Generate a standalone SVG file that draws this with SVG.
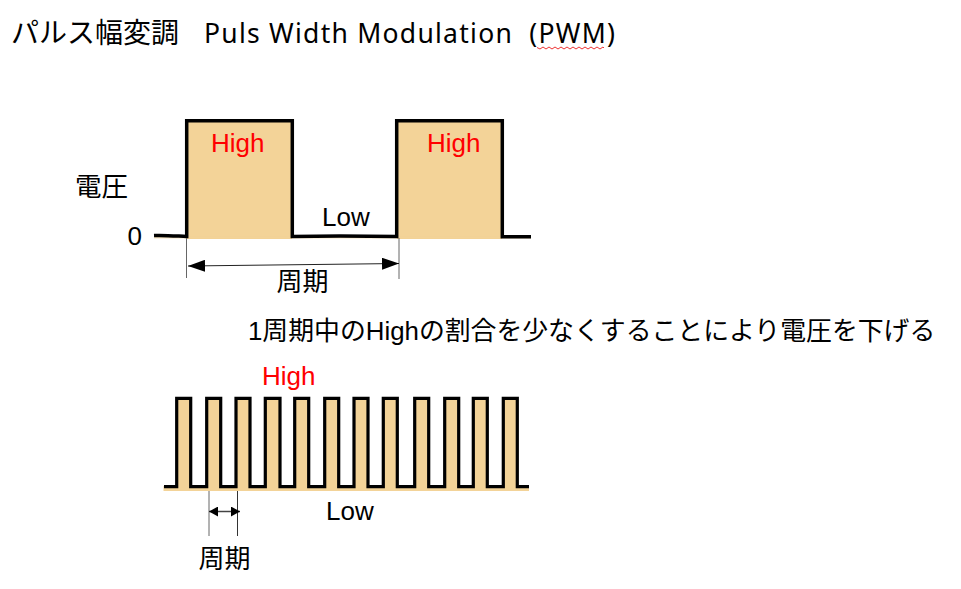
<svg xmlns="http://www.w3.org/2000/svg" width="961" height="589" viewBox="0 0 961 589">
<style>
text{font-family:"Liberation Sans","Noto Sans CJK JP",sans-serif;fill:#000}
.red{fill:#f00}
.fill{fill:#f3d398;stroke:none}
.wave{fill:none;stroke:#000;stroke-linejoin:miter}
.dim{fill:none;stroke:#666;stroke-width:1}
.dimb{fill:none;stroke:#333;stroke-width:1}
.ttl{font-family:"Noto Sans CJK JP","Noto Sans",sans-serif}
.ttl2{font-family:"Noto Sans",sans-serif}
</style>
<defs>
<marker id="ah" markerUnits="userSpaceOnUse" markerWidth="18" markerHeight="12" refX="17" refY="6" orient="auto-start-reverse"><path d="M0 0L17 6L0 12Z" fill="#000"/></marker>
<marker id="as" markerUnits="userSpaceOnUse" markerWidth="10" markerHeight="10" refX="9" refY="5" orient="auto-start-reverse"><path d="M0 0L9 5L0 10Z" fill="#000"/></marker>
</defs>
<rect width="961" height="589" fill="#fff"/>
<g id="title">
<text class="ttl" x="11" y="43" font-size="28">パルス幅変調</text>
<text class="ttl2" x="204" y="43" font-size="26.500" xml:space="preserve" textLength="411">Puls Width Modulation  (PWM)</text>
<path d="M537 47.500l3 1.500 3-2 3 2 3-2 3 2 3-2 3 2 3-2 3 2 3-2 3 2 3-2 3 2 3-2 3 2 3-2 3 2 3-2 3 2 3-2 3 2 3-2 1 1" fill="none" stroke="#e33" stroke-width="1"/>
</g>
<g id="pulse-wide">
<rect class="fill" x="187" y="121" width="105" height="118"/>
<rect class="fill" x="397" y="121" width="105" height="118"/>
<path class="fill" d="M154 236.500H531V238.500H154Z" opacity="0.6"/>
<path class="wave" stroke-width="3.500" d="M154 235.500C165 235 176 236 186.700 236.500V120.700H292.300V236.500L340 236L396.700 236.500V120.700H502.300V236.800H531"/>
</g>
<g id="label-high-1"><text class="red" x="211" y="152" font-size="26">High</text></g>
<g id="label-high-2"><text class="red" x="427" y="152" font-size="26">High</text></g>
<g id="label-low-1"><text x="322" y="226" font-size="26">Low</text></g>
<g id="label-voltage"><text x="75" y="196" font-size="26.500">電圧</text></g>
<g id="label-zero"><text x="127.500" y="245" font-size="26">0</text></g>
<g id="connectors">
<path class="dim" d="M186.500 238V278M399 238V279"/>
<path d="M188 266L399 263.500" fill="none" stroke="#222" stroke-width="1" marker-start="url(#ah)" marker-end="url(#ah)"/>
<path class="dim" d="M209 489V536"/>
<path class="dimb" d="M237.500 489V536"/>
<path d="M209 511.500H240" fill="none" stroke="#444" stroke-width="1.500" marker-start="url(#as)" marker-end="url(#as)"/>
</g>
<g id="label-period-1"><text x="276.500" y="291" font-size="26">周期</text></g>
<g id="caption"><text x="248" y="340" font-size="25.850">1周期中のHighの割合を少なくすることにより電圧を下げる</text></g>
<g id="label-high-3"><text class="red" x="262" y="385" font-size="26">High</text></g>
<g id="pulse-narrow">
<path class="fill" d="M163.500 486H529V491H163.500Z"/>
<path class="fill" d="M176.700 398H190.700V487H176.700ZM206.700 398H220.700V487H206.700ZM236 398H250V487H236ZM265.300 398H280V487H265.300ZM294.700 398H308.700V487H294.700ZM324.700 398H338.700V487H324.700ZM354 398H368V487H354ZM383.300 398H397.300V487H383.300ZM414.700 398H428.700V487H414.700ZM444.700 398H458.700V487H444.700ZM473.300 398H487.300V487H473.300ZM503.300 398H517.300V487H503.300Z"/>
<path class="wave" stroke-width="3.200" d="M164 486.700H176.700V398.300H190.700V486.700H206.700V398.300H220.700V486.700H236V398.300H250V486.700H265.300V398.300H280V486.700H294.700V398.300H308.700V486.700H324.700V398.300H338.700V486.700H354V398.300H368V486.700H383.300V398.300H397.300V486.700H414.700V398.300H428.700V486.700H444.700V398.300H458.700V486.700H473.300V398.300H487.300V486.700H503.300V398.300H517.300V486.700H529"/>
</g>
<g id="label-low-2"><text x="326" y="520" font-size="26">Low</text></g>
<g id="label-period-2"><text x="198.500" y="568" font-size="26">周期</text></g>
</svg>
